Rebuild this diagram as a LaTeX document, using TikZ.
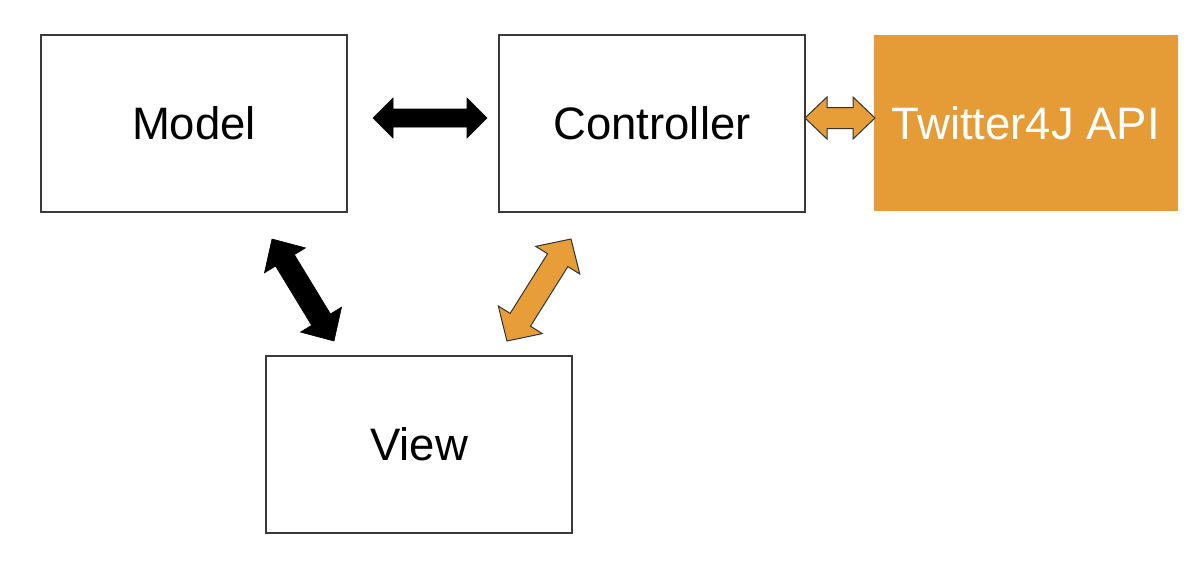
\documentclass[tikz,border=0pt]{standalone}
\usepackage{fontspec}
\setmainfont{Liberation Sans}
\usetikzlibrary{calc}
\definecolor{boxline}{HTML}{3A3A3A}
\definecolor{apiorange}{HTML}{E59C37}
\definecolor{arroworange}{HTML}{E89E38}
\tikzset{
  box/.style={draw=boxline, line width=1.6pt, minimum width=306pt, minimum height=177pt, inner sep=0pt, font=\fontsize{45.5}{50}\selectfont},
  apibox/.style={fill=apiorange, draw=none, minimum width=304pt, minimum height=176pt, inner sep=0pt, text=white, font=\fontsize{45.5}{50}\selectfont},
  blackarrow/.style={fill=black, draw=black, line width=0.6pt, line join=miter},
  orangearrow/.style={fill=arroworange, draw=black!80, line width=1pt, line join=miter}
}
% #1 start, #2 end, #3 style, #4 shaft half-width, #5 head half-width, #6 head length
\newcommand{\blockarrow}[6]{%
  \path[#3] let \p1=($(#2)-(#1)$), \n1={atan2(\y1,\x1)}, \n2={veclen(\x1,\y1)} in
    [shift={(#1)}, rotate=\n1]
    (0pt,0pt) -- (#6pt,#5pt) -- (#6pt,#4pt) -- ({\n2-#6pt},#4pt) -- ({\n2-#6pt},#5pt)
    -- ({\n2},0pt) -- ({\n2-#6pt},-#5pt) -- ({\n2-#6pt},-#4pt) -- (#6pt,-#4pt) -- (#6pt,-#5pt) -- cycle;
}
\begin{document}
\begin{tikzpicture}[x=1pt, y=-1pt]
  \useasboundingbox[fill=white] (0,0) rectangle (1200,570);
  \node[box] (model) at (194,123.5) {Model};
  \node[box] (ctrl) at (652,123.5) {Controller};
  \node[apibox] (api) at (1026,123) {Twitter4J API};
  \node[box] (view) at (419,444.5) {View};
  % arrow endpoints
  \coordinate (mc1) at (373,118);
  \coordinate (mc2) at (487,118);
  \coordinate (ca1) at (805,118);
  \coordinate (ca2) at (875,118);
  \coordinate (mv1) at (272,239);
  \coordinate (mv2) at (334,341);
  \coordinate (cv1) at (571,239);
  \coordinate (cv2) at (507,341);
  \blockarrow{mc1}{mc2}{blackarrow}{9}{20}{20}
  \blockarrow{ca1}{ca2}{orangearrow}{10.5}{21}{22}
  \blockarrow{mv1}{mv2}{blackarrow}{11}{24}{25}
  \blockarrow{cv1}{cv2}{orangearrow}{12}{26}{25}
\end{tikzpicture}
\end{document}
